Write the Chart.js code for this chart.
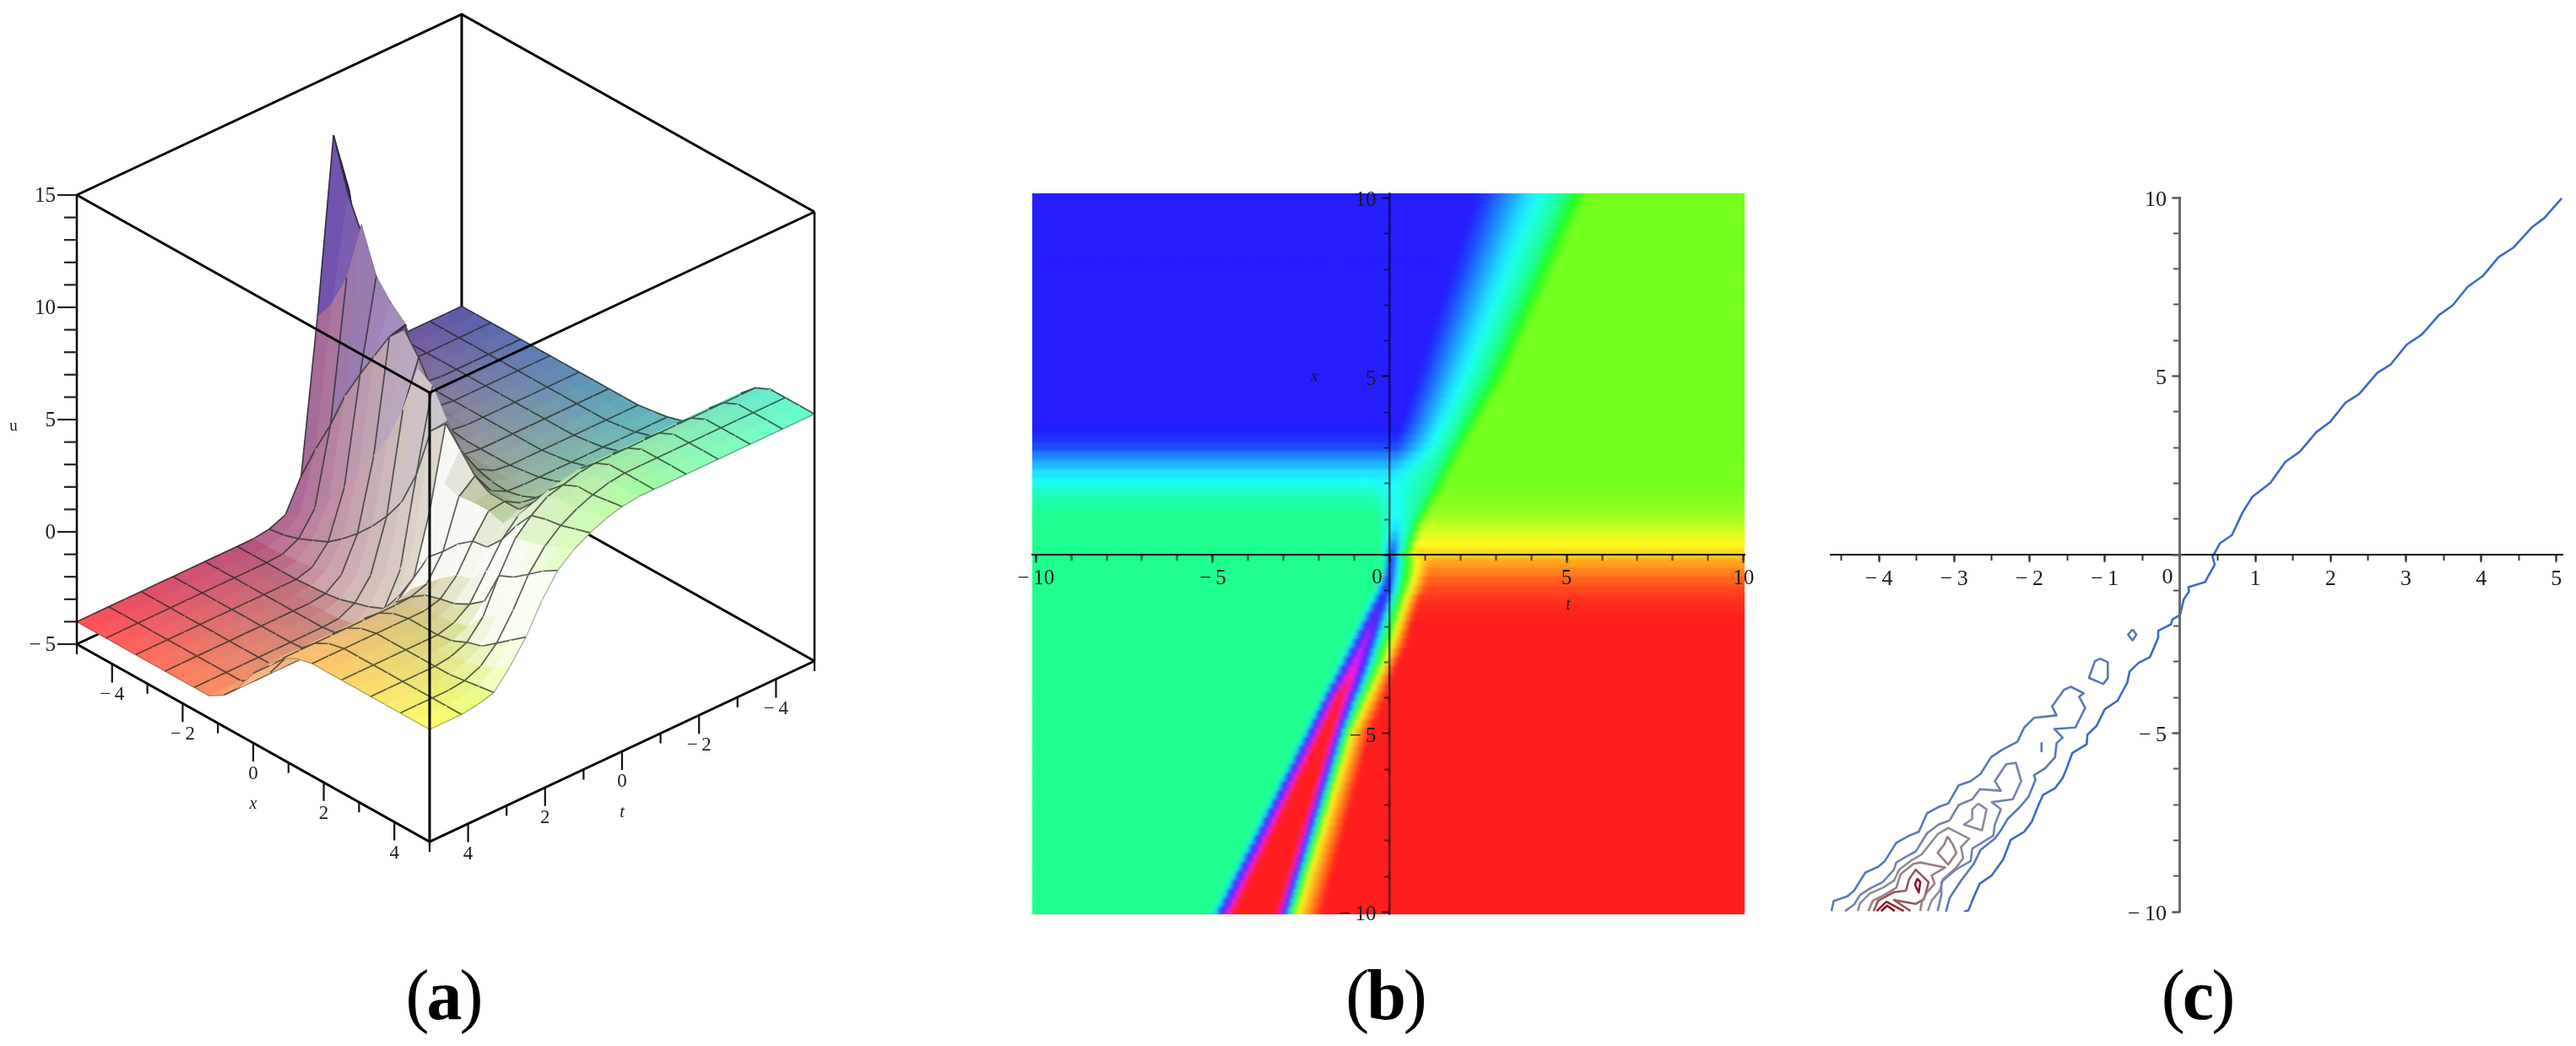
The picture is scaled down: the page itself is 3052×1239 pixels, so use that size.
<!DOCTYPE html>
<html>
<head>
<meta charset="utf-8">
<title>u(x,t)</title>
<script src="https://cdn.jsdelivr.net/npm/chart.js@4/dist/chart.umd.js"></script>
<style>
  html, body { margin: 0; background: #fff; width: 3052px; height: 1239px; overflow: hidden; }
  canvas { position: absolute; filter: blur(0.5px); }
  .cap { position: absolute; top: 1137px; font: 84px/1 "Liberation Serif"; letter-spacing: -3px; transform: translateX(-50%); color: #000; }
  .cap b { font-weight: bold; }
</style>
</head>
<body>
<canvas id="surface" width="1060" height="1100" style="left:0;top:0"></canvas>
<canvas id="density" width="920" height="920" style="left:1180px;top:200px"></canvas>
<canvas id="contour" width="912" height="900" style="left:2140px;top:210px"></canvas>
<div class="cap" style="left:525px">(<b>a</b>)</div>
<div class="cap" style="left:1641px">(<b>b</b>)</div>
<div class="cap" style="left:2603px">(<b>c</b>)</div>

<script>
// ---- panel (a): surface heights u, rows are x, columns are t
const gridX = [-5,-4.58,-4.17,-3.75,-3.33,-2.92,-2.5,-2.08,-1.67,-1.25,-0.83,-0.42,0,0.42,0.83,1.25,1.67,2.08,2.5,2.92,3.33,3.75,4.17,4.58,5];
const gridT = [-5,-4.58,-4.17,-3.75,-3.33,-2.92,-2.5,-2.08,-1.67,-1.25,-0.83,-0.42,0,0.42,0.83,1.25,1.67,2.08,2.5,2.92,3.33,3.75,4.17,4.58,5];
const surfaceU = [
  [2,2,2,2,2,2.3,4.5,9.5,12.3,4.5,-2.2,-3.6,-3.9,-4,-4,-4,-4,-4,-4,-4,-4,-4,-4,-4,-4],
  [2,2,2,2,2,2.1,2.8,5.5,10,5.5,-0.6,-3.2,-3.8,-4,-4,-4,-4,-4,-4,-4,-4,-4,-4,-4,-4],
  [2,2,2,2,2,2,2.4,3.8,8.5,7,0.8,-2.6,-3.6,-3.95,-4,-4,-4,-4,-4,-4,-4,-4,-4,-4,-4],
  [2,2,2,2,2,2,2.2,3,5.5,9.7,2.5,-1.8,-3.3,-3.9,-4,-4,-4,-4,-4,-4,-4,-4,-4,-4,-4],
  [2,2,2,2,2,2,2.1,2.6,3.8,7.8,3.8,-0.9,-3,-3.8,-4,-4,-4,-4,-4,-4,-4,-4,-4,-4,-4],
  [2,2,2,2,2,2,2,2.3,3,7,5,0.2,-2.5,-3.6,-3.95,-4,-4,-4,-4,-4,-4,-4,-4,-4,-4],
  [2,2,2,2,2,2,2,2.1,2.6,6.4,6.2,1.2,-1.9,-3.4,-3.9,-4,-4,-4,-4,-4,-4,-4,-4,-4,-4],
  [2,2,2,2,2,2,2,2,2.3,4,6.9,2.4,-1.2,-3.1,-3.8,-4,-4,-4,-4,-4,-4,-4,-4,-4,-4],
  [2,2,2,2,2,2,2,2,2.1,2.8,6,4,-0.4,-2.7,-3.6,-3.95,-4,-4,-4,-4,-4,-4,-4,-4,-4],
  [2,2,2,2,2,2,2,2,2,2.3,4.8,6.2,0.6,-2.3,-3.4,-3.85,-3.9,-3.95,-3.95,-3.95,-4,-4,-4,-4,-4],
  [2,2,2,2,2,2,2,2,2,2.1,3.2,5.8,2.2,-1.7,-3.1,-3.5,-3.6,-3.6,-3.6,-3.6,-3.6,-3.6,-3.6,-3.6,-3.6],
  [2,2,2,2,2,2,2,2,2,2.1,2.7,4.6,4.5,0,-2.2,-2.8,-2.9,-2.9,-2.9,-2.9,-2.9,-2.9,-2.9,-2.9,-2.9],
  [2,2,2,2,2,2,2,2,2,2.1,2.5,3.6,5.2,1.6,-1,-1.7,-1.9,-1.9,-1.9,-1.9,-1.9,-1.9,-1.9,-1.9,-1.9],
  [2.1,2.1,2.1,2.1,2.1,2.1,2.1,2.1,2.1,2.1,2.3,2.9,4.4,3.2,0.3,-0.8,-1.05,-1.1,-1.1,-1.1,-1.1,-1.1,-1.1,-1.1,-1.1],
  [2.2,2.2,2.2,2.2,2.2,2.2,2.2,2.2,2.2,2.2,2.25,2.6,3.6,3,0.9,-0.2,-0.45,-0.5,-0.5,-0.5,-0.5,-0.5,-0.5,-0.5,-0.5],
  [2.4,2.4,2.4,2.4,2.4,2.4,2.4,2.4,2.4,2.4,2.4,2.6,3.2,3.1,1.6,0.4,0,-0.1,-0.15,-0.15,-0.15,-0.15,-0.15,-0.15,-0.15],
  [2.7,2.7,2.7,2.7,2.7,2.7,2.7,2.7,2.7,2.7,2.7,2.8,3.2,3.1,2.1,0.9,0.2,0,0,0,0,0,0,0,0],
  [3.2,3.2,3.2,3.2,3.2,3.2,3.2,3.2,3.2,3.2,3.2,3.2,3.2,2.9,2.2,1.1,0.35,0.1,0,0,0,0,0,0,0],
  [4,4,4,4,4,4,4,4,4,4,4,3.95,3.9,3.6,2.9,1.8,0.7,0.2,0,0,0,0,0,0,0],
  [5.1,5.1,5.1,5.1,5.1,5.1,5.1,5.1,5.1,5.1,5.1,4.95,4.8,4.5,3.9,2.7,1.2,0.4,0.1,0,0,0,0,0,0],
  [5.7,5.7,5.7,5.7,5.7,5.7,5.7,5.7,5.7,5.7,5.7,5.6,5.4,5.2,4.7,4,2.7,1.2,0.4,0.1,0,0,0,0,0],
  [6,6,6,6,6,6,6,6,6,6,6,5.9,5.7,5.4,4.9,4.2,3,1.6,0.6,0.2,0,0,0,0,0],
  [6,6,6,6,6,6,6,6,6,6,6,5.9,5.7,5.4,5,4.4,3.5,2.2,1.1,0.4,0.1,0,0,0,0],
  [6,6,6,6,6,6,6,6,6,6,6,6,5.8,5.6,5.2,4.7,4,2.8,1.6,0.7,0.2,0.1,0,0,0],
  [6,6,6,6,6,6,6,6,6,6,6,6,5.9,5.7,5.4,5,4.4,3.4,2.1,1.1,0.3,0.1,0,0,0]
];
const uTicks = [-5,-4,-3,-2,-1,0,1,2,3,4,5,6,7,8,9,10,11,12,13,14,15];
const uLabels = [-5,0,5,10,15];
const boxTicks = [-5,-4,-3,-2,-1,0,1,2,3,4,5];
const boxLabels = [-4,-2,0,2,4];

// ---- panel (b): one row per x, hue and t positions read along each row
const upperStart = [2.53,2.45,2.37,2.29,2.2,2.12,2.04,1.96,1.87,1.79,1.71,1.63,1.54,1.46,1.38,1.3,1.21,1.13,1.05,0.97,0.88,0.8,0.72,0.64,0.55,0.47,0.39,0.3,0.25,0.2,0.17,0.13,0.1];
const heatX = [10.25,10,9.75,9.5,9.25,9,8.75,8.5,8.25,8,7.75,7.5,7.25,7,6.75,6.5,6.25,6,5.75,5.5,5.25,5,4.75,4.5,4.25,4,3.75,3.5,3.25,3,2.75,2.5,2.25,2,1.75,1.5,1.25,1,0.75,0.5,0.25,0,-0.25,-0.5,-0.75,-1,-1.25,-1.5,-1.75,-2,-2.25,-2.5,-2.75,-3,-3.25,-3.5,-3.75,-4,-4.25,-4.5,-4.75,-5,-5.25,-5.5,-5.75,-6,-6.25,-6.5,-6.75,-7,-7.25,-7.5,-7.75,-8,-8.25,-8.5,-8.75,-9,-9.25,-9.5,-9.75,-10,-10.25];
const heatLeft = [242,242,242,242,242,242,242,242,242,242,242,242,242,242,242,242,242,242,242,242,242,242,242,242,242,242,242,240,235,228,213,200,187,178,165,158,153,151,150,150,150,150,150,150,150,150,150,150,150,150,150,150,150,150,150,150,150,150,150,150,150,150,150,150,150,150,150,150,150,150,150,150,150,150,150,150,150,150,150,150,150,150,150];
const heatPeak = [242,242,242,242,242,242,242,242,242,242,242,242,242,242,242,242,242,242,242,242,242,242,242,242,242,242,242,240,235,228,213,200,187,182,180,180,180,183,190,205,222,235,240,243,246,250,256,265,272,280,288,295,303,312,325,340,352,360,360,360,360,360,360,360,360,360,360,360,360,360,360,360,360,360,360,360,360,360,360,360,360,360,360];
const heatRight = [97,97,97,97,97,97,97,97,97,97,97,97,97,97,97,97,97,97,97,97,97,97,97,97,97,97,97,97,97,97,97,97,97,97,95,93,90,85,76,67,58,48,36,26,18,11,6,3,1,0,0,0,0,0,0,0,0,0,0,0,0,0,0,0,0,0,0,0,0,0,0,0,0,0,0,0,0,0,0,0,0,0,0];
const heatRise = [...upperStart,-0.6,-0.5,-0.45,-0.4,-0.35,-0.3,-0.28,-0.26,-0.25,-0.2,-0.2,-0.33,-0.45,-0.58,-0.7,-0.83,-0.95,-1.08,-1.2,-1.33,-1.45,-1.58,-1.7,-1.83,-1.95,-2.08,-2.2,-2.33,-2.45,-2.58,-2.71,-2.83,-2.96,-3.09,-3.22,-3.34,-3.47,-3.6,-3.73,-3.85,-3.98,-4.11,-4.24,-4.36,-4.49,-4.62,-4.75,-4.87,-5,-5.13];
const heatTopA = [...upperStart,0.1,0.12,0.15,0.18,0.18,0.17,0.15,0.12,0.08,0.02,-0.02,-0.05,-0.1,-0.2,-0.3,-0.42,-0.52,-0.62,-0.72,-0.83,-0.93,-1.04,-1.15,-1.28,-1.43,-1.55,-1.67,-1.79,-1.91,-2.03,-2.16,-2.28,-2.4,-2.53,-2.65,-2.77,-2.9,-3.02,-3.14,-3.27,-3.39,-3.51,-3.64,-3.76,-3.89,-4.01,-4.13,-4.26,-4.38,-4.5];
const heatTopB = [...upperStart,0.1,0.12,0.15,0.18,0.18,0.17,0.15,0.12,0.08,0.02,-0.02,-0.05,-0.1,-0.2,-0.3,-0.42,-0.52,-0.62,-0.72,-0.83,-0.93,-1.04,-1.15,-1.24,-1.37,-1.45,-1.52,-1.6,-1.67,-1.75,-1.82,-1.9,-1.97,-2.05,-2.12,-2.2,-2.27,-2.35,-2.43,-2.5,-2.58,-2.65,-2.73,-2.8,-2.88,-2.96,-3.03,-3.11,-3.18,-3.26];
const heatMid = [5.01,4.9,4.79,4.68,4.57,4.46,4.35,4.24,4.13,4.02,3.91,3.8,3.69,3.58,3.47,3.36,3.25,3.14,3.03,2.92,2.81,2.7,2.57,2.45,2.32,2.2,2.07,1.95,1.82,1.7,1.57,1.45,1.32,1.2,1.07,0.95,0.83,0.72,0.62,0.52,0.44,0.38,0.75,0.72,0.66,0.58,0.48,0.4,0.32,0.24,0.15,0.06,-0.03,-0.12,-0.24,-0.36,-0.48,-0.6,-0.72,-0.83,-0.95,-1.07,-1.15,-1.22,-1.3,-1.38,-1.45,-1.53,-1.61,-1.68,-1.76,-1.84,-1.91,-1.99,-2.07,-2.14,-2.22,-2.3,-2.37,-2.45,-2.52,-2.6,-2.67];
const heatFall = [5.66,5.55,5.44,5.33,5.21,5.1,4.99,4.88,4.76,4.65,4.54,4.43,4.31,4.2,4.09,3.98,3.86,3.75,3.64,3.53,3.41,3.3,3.15,3,2.85,2.7,2.55,2.4,2.25,2.1,1.97,1.84,1.71,1.58,1.45,1.28,1.15,1,0.9,0.82,0.75,0.72,1.1,1.1,1.05,1,0.85,0.78,0.7,0.62,0.55,0.48,0.37,0.25,0.15,0.05,-0.03,-0.12,-0.22,-0.33,-0.44,-0.55,-0.62,-0.69,-0.75,-0.82,-0.89,-0.96,-1.02,-1.09,-1.16,-1.23,-1.29,-1.36,-1.43,-1.5,-1.56,-1.63,-1.7,-1.77,-1.83,-1.9,-1.97];
const densMinor = [-10,-9,-8,-7,-6,-5,-4,-3,-2,-1,0,1,2,3,4,5,6,7,8,9,10];
const densMajor = [-10,-5,0,5,10];

// ---- panel (c): contour lines as [t, x]
const level0 = [[5.07,9.98],[4.84,9.43],[4.67,9.16],[4.43,8.6],[4.23,8.33],[4.02,7.8],[3.82,7.5],[3.62,6.98],[3.44,6.71],[3.21,6.16],[3.01,5.88],[2.8,5.33],[2.62,5.09],[2.38,4.5],[2.2,4.26],[1.99,3.71],[1.81,3.43],[1.59,2.88],[1.4,2.6],[1.2,2.01],[0.96,1.62],[0.83,1.18],[0.69,0.55],[0.53,0.32],[0.47,0.08],[0.43,-0.04],[0.46,-0.28],[0.33,-0.77],[0.11,-0.91],[0.12,-1.03],[0.05,-1.25],[0,-1.69],[-0.1,-1.81],[-0.12,-1.95],[-0.29,-2.13],[-0.29,-2.32],[-0.4,-2.87],[-0.55,-3.03],[-0.67,-3.27],[-0.7,-3.58],[-0.83,-4.09],[-1,-4.33],[-1.11,-4.8],[-1.23,-5.04],[-1.24,-5.31],[-1.43,-5.55],[-1.52,-6.06],[-1.56,-6.26],[-1.66,-6.54],[-1.82,-6.73],[-1.88,-7.01],[-1.97,-7.48],[-2.07,-7.76],[-2.25,-7.99],[-2.35,-8.54],[-2.5,-8.98],[-2.66,-9.21],[-2.76,-9.69],[-2.81,-9.96],[-2.87,-10]];
const level1 = [[-4.63,-9.98],[-4.6,-9.7],[-4.42,-9.57],[-4.33,-9.41],[-4.18,-8.9],[-4.01,-8.74],[-3.92,-8.58],[-3.77,-8.07],[-3.6,-7.87],[-3.47,-7.76],[-3.36,-7.24],[-3.19,-7.05],[-3.08,-6.97],[-2.94,-6.46],[-2.78,-6.34],[-2.65,-6.14],[-2.51,-5.67],[-2.37,-5.47],[-2.16,-5.24],[-2.07,-4.84],[-1.94,-4.57],[-1.64,-4.5],[-1.7,-4.25],[-1.54,-3.78],[-1.45,-3.7],[-1.28,-3.88],[-1.34,-3.98],[-1.26,-4.29],[-1.39,-4.84],[-1.67,-4.88],[-1.56,-5.12],[-1.64,-5.28],[-1.66,-5.67],[-1.79,-5.98],[-1.94,-6.18],[-1.92,-6.3],[-2.01,-6.77],[-2.12,-7.05],[-2.29,-7.4],[-2.38,-7.72],[-2.46,-7.95],[-2.65,-8.27],[-2.74,-8.66],[-2.91,-9.13],[-3.06,-9.61],[-3.11,-10]];
const level2 = [[-4.45,-9.98],[-4.33,-9.8],[-4.25,-9.53],[-4.12,-9.35],[-3.95,-9.17],[-3.8,-8.82],[-3.77,-8.62],[-3.64,-8.46],[-3.51,-8.31],[-3.36,-7.8],[-3.21,-7.56],[-3.06,-7.44],[-2.94,-7.01],[-2.76,-6.85],[-2.66,-6.57],[-2.38,-6.61],[-2.46,-6.34],[-2.31,-5.87],[-2.18,-5.83],[-2.16,-5.98],[-2.11,-6.34],[-2.22,-6.85],[-2.5,-6.93],[-2.38,-7.13],[-2.46,-7.56],[-2.48,-7.87],[-2.76,-8.23],[-2.78,-8.58],[-2.98,-8.82],[-3.17,-9.17],[-3.17,-9.53],[-3.22,-9.98]];
const level3 = [[-4.28,-9.98],[-4.25,-9.76],[-4.12,-9.49],[-3.95,-9.33],[-3.8,-9.13],[-3.73,-8.82],[-3.58,-8.58],[-3.43,-8.39],[-3.22,-7.83],[-3.08,-7.65],[-2.8,-7.95],[-2.91,-8.19],[-2.88,-8.5],[-2.98,-8.78],[-3.15,-9.09],[-3.19,-9.41],[-3.3,-9.69],[-3.35,-9.98]];
const level4 = [[-4.14,-9.98],[-4.08,-9.69],[-3.93,-9.53],[-3.77,-9.33],[-3.71,-8.94],[-3.54,-8.66],[-3.45,-8.62],[-3.12,-8.76],[-3.3,-8.98],[-3.26,-9.21],[-3.36,-9.45],[-3.43,-9.72],[-3.45,-9.98]];
const level5 = [[-4.07,-9.98],[-4.01,-9.69],[-3.8,-9.45],[-3.64,-9.41],[-3.6,-9.09],[-3.51,-8.82],[-3.34,-9.17],[-3.4,-9.65],[-3.51,-9.78],[-3.8,-9.67],[-3.58,-9.98]];
const level6 = [[-4.03,-9.98],[-3.9,-9.72],[-3.67,-9.98]];
const level7 = [[-3.97,-9.98],[-3.89,-9.83],[-3.79,-9.98]];
const ringPeak = [[-3.49,-9.07],[-3.45,-9.17],[-3.47,-9.46],[-3.52,-9.25],[-3.49,-9.07]];
const ringA = [[-3.09,-7.89],[-3.02,-8.11],[-2.97,-8.35],[-3.08,-8.68],[-3.22,-8.35],[-3.13,-8.11],[-3.09,-7.89]];
const ringB = [[-2.68,-6.97],[-2.57,-7.13],[-2.63,-7.72],[-2.87,-7.56],[-2.76,-7.4],[-2.76,-7.13],[-2.68,-6.97]];
const ringC = [[-1.06,-2.91],[-0.96,-3.01],[-0.96,-3.46],[-1.02,-3.62],[-1.21,-3.45],[-1.13,-2.98],[-1.06,-2.91]];
const ringD = [[-0.63,-2.09],[-0.58,-2.24],[-0.63,-2.4],[-0.69,-2.24],[-0.63,-2.09]];
const dashE = [[-1.84,-5.28],[-1.84,-5.51]];
const contourLines = [
  [level0, '#3f69c9'], [level1, '#5878bd'], [level2, '#7484ae'], [level3, '#8d8d99'],
  [level4, '#987f84'], [level5, '#97575c'], [level6, '#8a2a30'], [level7, '#8a0c28'],
  [ringPeak, '#8a1830'], [ringA, '#98807f'], [ringB, '#8a8c9e'], [ringC, '#5b77b8'], [ringD, '#5b77b8'], [dashE, '#5b77b8']
];
const contTMinor = [-4.5,-4,-3.5,-3,-2.5,-2,-1.5,-1,-0.5,0,0.5,1,1.5,2,2.5,3,3.5,4,4.5,5];
const contTMajor = [-4,-3,-2,-1,0,1,2,3,4,5];
const contTLabels = [-4,-3,-2,-1,1,2,3,4,5];
const contXMinor = [-10,-9,-8,-7,-6,-5,-4,-3,-2,-1,0,1,2,3,4,5,6,7,8,9,10];
const contXMajor = [-10,-5,0,5,10];

// surface corner colours
const colBack = [90,88,170], colRight = [100,255,210], colLeft = [255,75,90], colFront = [255,255,110], colPeak = [85,55,165];

const serif = '"Liberation Serif"';
const signed = v => v < 0 ? '\u2212\u2009' + Math.abs(v) : String(v);
const clamp = (v, a, b) => Math.min(b, Math.max(a, v));
const mix = (a, b, k) => a.map((c, i) => c + (b[i] - c) * k);

function textPlugin(getItems) {
  return {
    id: 'panelText',
    afterDraw(chart) {
      const ctx = chart.ctx;
      ctx.save();
      ctx.textBaseline = 'middle';
      getItems(chart).forEach(it => {
        ctx.font = it.font;
        ctx.fillStyle = it.color || '#1c1c1c';
        ctx.textAlign = it.align || 'center';
        ctx.fillText(it.text, it.x, it.y);
      });
      ctx.restore();
    }
  };
}

const baseOptions = {
  responsive: false, animation: false, devicePixelRatio: 1,
  plugins: { legend: { display: false }, tooltip: { enabled: false } }
};

// ---------- (a) surface, parallel projection of the box onto the page
const view = { ox: 528, oy: 773, xx: 41.8, xy: 23.4, tx: -45.6, ty: 21.4, uy: -26.6 };
function project(x, t, u) {
  return { x: view.ox + view.xx * x + view.tx * t, y: view.oy + view.xy * x + view.ty * t + view.uy * (u + 5) };
}
function lineSet(pts, color, width) {
  return { data: pts, showLine: true, fill: false, pointRadius: 0, borderColor: color, borderWidth: width, tension: 0 };
}
function quadColor(i, j) {
  const u = surfaceU;
  const fx = (i + 0.5) / 24, ft = (j + 0.5) / 24;
  let c = mix(mix(colBack, colRight, fx), mix(colLeft, colFront, fx), ft);
  const mean = (u[i][j] + u[i + 1][j] + u[i][j + 1] + u[i + 1][j + 1]) / 4;
  const dt = gridT[j + 1] - gridT[j], dx = gridX[i + 1] - gridX[i];
  const dudt = ((u[i][j + 1] + u[i + 1][j + 1]) - (u[i][j] + u[i + 1][j])) / 2 / dt;
  const dudx = ((u[i + 1][j] + u[i + 1][j + 1]) - (u[i][j] + u[i][j + 1])) / 2 / dx;
  const v = fx < 0.5 ? clamp((mean - 3) / 6, 0, 0.9) : 0;
  c = mix(c, colPeak, v);
  let w = 0.3 * Math.max(0, -dudt) + (ft > 0.5 ? 0.08 * Math.max(0, dudx) : 0);
  // the fins far back stay saturated, the ones near x = 0 wash out
  const cap = fx < 0.5 ? 0.1 + 0.95 * fx : 0.9;
  w = Math.min(w, cap);
  c = mix(c, [255, 255, 255], w);
  const shade = 1 - clamp(0.09 * Math.max(0, dudt), 0, 0.4);
  return 'rgb(' + c.map(k => Math.round(k * shade)).join(',') + ')';
}

const drawA = [];
const meshColor = 'rgba(28,38,30,0.72)';
const boxColor = '#000';
// back box edges, the surface covers them
const corner = (x, t, u) => project(x, t, u);
drawA.push(lineSet([corner(-5,-5,15), corner(-5,-5,-5)], boxColor, 3));
drawA.push(lineSet([corner(-5,5,15), corner(-5,-5,15), corner(5,-5,15)], boxColor, 3));
drawA.push(lineSet([corner(-5,5,-5), corner(-5,-5,-5), corner(5,-5,-5)], boxColor, 3));
// surface back to front
const order = [];
for (let i = 0; i < 24; i++) for (let j = 0; j < 24; j++) order.push([i, j]);
order.sort((a, b) => (a[0] + a[1]) - (b[0] + b[1]));
order.forEach(([i, j]) => {
  const p = (a, b) => project(gridX[a], gridT[b], surfaceU[a][b]);
  const col = quadColor(i, j);
  drawA.push({
    data: [p(i, j), p(i + 1, j), p(i + 1, j + 1), p(i, j + 1), p(i, j)],
    showLine: true, fill: 'shape', backgroundColor: col, borderColor: col, borderWidth: 1.2, pointRadius: 0, tension: 0
  });
  if (j % 2 === 0) drawA.push(lineSet([p(i, j), p(i + 1, j)], meshColor, 1.7));
  if (i % 2 === 0) drawA.push(lineSet([p(i, j), p(i, j + 1)], meshColor, 1.7));
  if (j === 23) drawA.push(lineSet([p(i, 24), p(i + 1, 24)], 'rgba(90,90,70,0.5)', 1.2));
  if (i === 23) drawA.push(lineSet([p(24, j), p(24, j + 1)], 'rgba(60,90,70,0.5)', 1.2));
});
// front box edges
drawA.push(lineSet([corner(5,5,15), corner(5,5,-5)], boxColor, 3));
drawA.push(lineSet([corner(-5,5,15), corner(5,5,15), corner(5,-5,15)], boxColor, 3));
drawA.push(lineSet([corner(-5,5,-5), corner(5,5,-5), corner(5,-5,-5)], boxColor, 3));
drawA.push(lineSet([corner(-5,5,15), corner(-5,5,-5)], boxColor, 2.5));
drawA.push(lineSet([corner(5,-5,15), corner(5,-5,-5)], boxColor, 2.5));
// axis ticks
uTicks.forEach(v => {
  const p = project(-5, 5, v), len = uLabels.includes(v) ? 23 : 15;
  drawA.push(lineSet([p, { x: p.x - len, y: p.y }], '#222', 2.2));
});
boxTicks.forEach(v => {
  const len = boxLabels.includes(v) ? 22 : 12;
  const a = project(v, 5, -5), b = project(5, -v, -5);
  drawA.push(lineSet([a, { x: a.x, y: a.y + len }], '#111', 2.2));
  drawA.push(lineSet([b, { x: b.x, y: b.y + len }], '#111', 2.2));
});

new Chart(document.getElementById('surface'), {
  type: 'scatter',
  data: { datasets: drawA.slice().reverse() },
  options: {
    ...baseOptions,
    layout: { padding: 0 },
    scales: {
      x: { type: 'linear', min: 0, max: 1060, display: false },
      y: { type: 'linear', min: 0, max: 1100, reverse: true, display: false }
    }
  },
  plugins: [textPlugin(() => {
    const items = [];
    uLabels.forEach(v => {
      const p = project(-5, 5, v);
      items.push({ text: signed(v), x: p.x - 25, y: p.y + 1, align: 'right', font: '25px ' + serif });
    });
    boxLabels.forEach(v => {
      const a = project(v, 5, -5), b = project(5, -v, -5);
      items.push({ text: signed(v), x: a.x, y: a.y + 37, font: '23px ' + serif });
      items.push({ text: signed(-v), x: b.x, y: b.y + 36, font: '23px ' + serif });
    });
    items.push({ text: 'u', x: 16, y: 505, font: '19px ' + serif });
    const lx = project(0, 5, -5), lt = project(5, 0, -5);
    items.push({ text: 'x', x: lx.x, y: lx.y + 73, font: 'italic 20px ' + serif });
    items.push({ text: 't', x: lt.x, y: lt.y + 73, font: 'italic 20px ' + serif });
    return items;
  })]
});

// ---------- axes shared by (b) and (c): native scales crossing at zero
function crossScale(axis, min, max, ticks, len, border, tick) {
  const other = axis === 'x' ? 'y' : 'x';
  return {
    type: 'linear', axis, min, max, offset: false,
    position: { [other]: 0 },
    afterBuildTicks: s => { s.ticks = ticks.map(v => ({ value: v })); },
    ticks: { display: false, autoSkip: false, z: 2 },
    grid: { drawOnChartArea: false, drawTicks: true, tickLength: len, tickColor: tick.color, tickWidth: tick.width, offset: false, z: 2 },
    border: border ? { display: true, color: border.color, width: border.width, z: 2 } : { display: false }
  };
}

// ---------- (b) density: each row is a floating bar with a hue gradient along t
const tMin = -10.1, tMax = 10.03, xMin = -10.06, xMax = 10.13;
const hueCss = h => 'hsl(' + h + ',100%,56%)';
function rowGradient(chart, i) {
  const sx = chart.scales.x;
  const left = sx.getPixelForValue(tMin), right = sx.getPixelForValue(tMax);
  if (!Number.isFinite(left) || !Number.isFinite(right)) return '#000';
  const g = chart.ctx.createLinearGradient(left, 0, right, 0);
  const midHue = heatX[i] > -0.1 ? 150 : 60;
  const knots = [[tMin, heatLeft[i]], [heatRise[i], heatLeft[i]], [heatTopA[i], heatPeak[i]], [heatTopB[i], heatPeak[i]],
    [heatMid[i], midHue], [heatFall[i], heatRight[i]], [tMax, heatRight[i]]];
  let last = tMin;
  for (let k = 0; k < knots.length - 1; k++) {
    const t0 = Math.max(last, knots[k][0]), t1 = Math.max(t0, knots[k + 1][0]);
    const h0 = knots[k][1], h1 = knots[k + 1][1];
    const n = Math.max(1, Math.ceil(Math.abs(h1 - h0) / 15));
    for (let s = 0; s <= n; s++) {
      const off = ((t0 + (t1 - t0) * s / n) - tMin) / (tMax - tMin);
      g.addColorStop(clamp(off, 0, 1), hueCss(h0 + (h1 - h0) * s / n));
    }
    last = t1;
  }
  return g;
}
// the second pass of the rows is softened so neighbouring rows blend like the smoothed density plot
const rowBlend = {
  id: 'rowBlend',
  beforeDatasetDraw(chart, args) { chart.ctx.filter = args.index === 0 ? 'blur(3px)' : 'none'; },
  afterDatasetDraw(chart) { chart.ctx.filter = 'none'; }
};
const rowSet = () => ({
  data: heatX.map(x => ({ y: x, x: [tMin - 1, tMax + 1] })),
  grouped: false, barThickness: 11.6, borderWidth: 0, borderSkipped: false,
  backgroundColor: c => c.dataIndex === undefined ? '#000' : rowGradient(c.chart, c.dataIndex)
});
const bTickX = { color: 'rgba(0,0,0,0.55)', width: 2.5 }, bTickY = { color: 'rgba(0,0,0,0.6)', width: 2 };
new Chart(document.getElementById('density'), {
  type: 'bar',
  data: { datasets: [rowSet(), rowSet()] },
  options: {
    ...baseOptions,
    indexAxis: 'y',
    layout: { padding: { left: 43, right: 33, top: 29, bottom: 37 } },
    scales: {
      x: crossScale('x', tMin, tMax, densMinor, 6, { color: '#000', width: 2 }, bTickX),
      x2: crossScale('x', tMin, tMax, densMajor, 10, null, bTickX),
      y: crossScale('y', xMin, xMax, densMinor, 5, { color: 'rgba(0,0,20,0.62)', width: 2.5 }, bTickY),
      y2: crossScale('y', xMin, xMax, densMajor, 9, null, bTickY)
    }
  },
  plugins: [rowBlend, textPlugin(chart => {
    const sx = chart.scales.x, sy = chart.scales.y;
    const ax = sx.getPixelForValue(0), ay = sy.getPixelForValue(0);
    const items = [];
    densMajor.forEach(v => {
      if (v !== 0) {
        items.push({ text: signed(v), x: sx.getPixelForValue(v), y: ay + 28, font: '25px ' + serif });
        items.push({ text: signed(v), x: ax - 16, y: sy.getPixelForValue(v) + 3, align: 'right', font: '25px ' + serif });
      }
    });
    items.push({ text: '0', x: ax - 15, y: ay + 27, font: '25px ' + serif });
    items.push({ text: 't', x: sx.getPixelForValue(5) + 2, y: ay + 59, font: 'italic 20px ' + serif });
    items.push({ text: 'x', x: ax - 89, y: sy.getPixelForValue(5) + 1, font: 'italic 20px ' + serif });
    return items;
  })]
});

// ---------- (c) contour lines
const cTickX = { color: '#333', width: 2 }, cTickY = { color: '#555', width: 2 };
new Chart(document.getElementById('contour'), {
  type: 'scatter',
  data: {
    datasets: contourLines.map(([pts, color]) => ({
      data: pts.map(p => ({ x: p[0], y: p[1] })),
      showLine: true, pointRadius: 0, borderColor: color, borderWidth: 2.6, tension: 0, borderJoinStyle: 'round'
    }))
  },
  options: {
    ...baseOptions,
    layout: { padding: { left: 29, right: 16, top: 24, bottom: 30 } },
    scales: {
      x: crossScale('x', -4.64, 5.08, contTMinor, 6, { color: '#000', width: 2 }, cTickX),
      x2: crossScale('x', -4.64, 5.08, contTMajor, 9, null, cTickX),
      y: crossScale('y', -10, 10, contXMinor, 6, { color: '#6a6a6a', width: 3 }, cTickY),
      y2: crossScale('y', -10, 10, contXMajor, 10, null, cTickY)
    }
  },
  plugins: [textPlugin(chart => {
    const sx = chart.scales.x, sy = chart.scales.y;
    const ax = sx.getPixelForValue(0), ay = sy.getPixelForValue(0);
    const items = [];
    contTLabels.forEach(v => items.push({ text: signed(v), x: sx.getPixelForValue(v), y: ay + 29, font: '26px ' + serif }));
    contXMajor.forEach(v => {
      if (v !== 0) items.push({ text: signed(v), x: ax - 16, y: sy.getPixelForValue(v) + 3, align: 'right', font: '26px ' + serif });
    });
    items.push({ text: '0', x: ax - 15, y: ay + 27, font: '26px ' + serif });
    return items;
  })]
});
</script>
</body>
</html>
